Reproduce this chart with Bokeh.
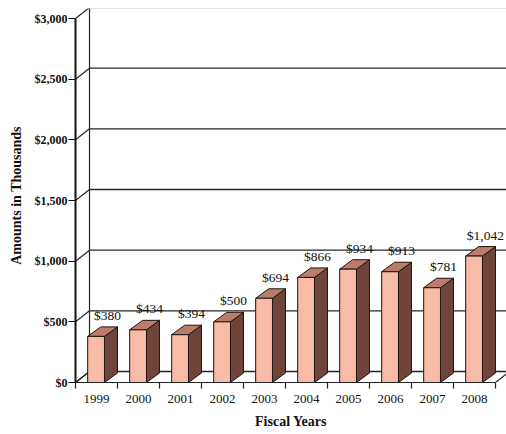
from bokeh.plotting import figure
from bokeh.models import Range1d, FixedTicker, NumeralTickFormatter, CustomJSTickFormatter, ColumnDataSource
from bokeh.embed import file_html
from bokeh.resources import INLINE

# ---- data ----
cats = ["1999", "2000", "2001", "2002", "2003", "2004", "2005", "2006", "2007", "2008"]
values = [380, 434, 394, 500, 694, 866, 934, 913, 781, 1042]
value_labels = ["$380", "$434", "$394", "$500", "$694", "$866", "$934", "$913", "$781", "$1,042"]
ytick_vals = [0, 500, 1000, 1500, 2000, 2500, 3000]

# ---- geometry (data units: 1 category = 1 unit in x, dollars in y) ----
n = len(cats)
PX_X = 42.0            # px per category
PX_Y = 364.0 / 3000.0  # px per dollar
wall_dx = 14 / PX_X
wall_dy = 11 / PX_Y
bar_dx = 13 / PX_X
bar_dy = 9.5 / PX_Y
f_left, f_right = 0.29, 0.69

FONT = "Liberation Serif"
FRAME_W = 431
FRAME_H = 374

p = figure(width=506, height=432, output_backend="svg", toolbar_location=None,
           x_range=Range1d(0, FRAME_W / PX_X), y_range=Range1d(0, FRAME_H / PX_Y),
           min_border_left=75, min_border_right=0, min_border_top=8, min_border_bottom=50)
p.xgrid.visible = False
p.ygrid.visible = False
p.outline_line_color = None
p.background_fill_color = "white"
p.border_fill_color = "white"

LINE = "#262626"

# floor
p.patch([0, n, n + wall_dx, wall_dx], [0, 0, wall_dy, wall_dy],
        fill_color="white", line_color=LINE, line_width=1.2)
# back wall gridlines
xmax = n + wall_dx + 1
p.segment(x0=[wall_dx] * len(ytick_vals), y0=[v + wall_dy for v in ytick_vals],
          x1=[xmax] * len(ytick_vals), y1=[v + wall_dy for v in ytick_vals],
          line_color=LINE, line_width=1.4)
# side-wall diagonals
p.segment(x0=[0] * len(ytick_vals), y0=ytick_vals,
          x1=[wall_dx] * len(ytick_vals), y1=[v + wall_dy for v in ytick_vals],
          line_color=LINE, line_width=1.2)
# back wall left edge
p.segment(x0=[wall_dx], y0=[wall_dy], x1=[wall_dx], y1=[ytick_vals[-1] + wall_dy],
          line_color=LINE, line_width=1.2)

# bars
side_xs, side_ys, top_xs, top_ys = [], [], [], []
lefts, rights = [], []
for i, v in enumerate(values):
    l, r = i + f_left, i + f_right
    lefts.append(l)
    rights.append(r)
    side_xs.append([r, r + bar_dx, r + bar_dx, r])
    side_ys.append([0, bar_dy, v + bar_dy, v])
    top_xs.append([l, r, r + bar_dx, l + bar_dx])
    top_ys.append([v, v, v + bar_dy, v + bar_dy])

p.patches(side_xs, side_ys, fill_color="#6f443a", line_color="#1e1410", line_width=1)
p.patches(top_xs, top_ys, fill_color="#b97d6a", line_color="#1e1410", line_width=1)
p.quad(left=lefts, right=rights, bottom=[0] * n, top=values,
       fill_color="#f8bba6", line_color="#1e1410", line_width=1)

# value labels
src = ColumnDataSource(dict(x=[i + 0.5 + 0.26 for i in range(n)], y=values, t=value_labels))
p.text(x="x", y="y", text="t", source=src, text_align="center", text_baseline="middle",
       y_offset=-21, text_font_size="13.5px", text_color="#111111",
       text_font={"value": FONT})

# axes
ya = p.yaxis[0]
ya.ticker = FixedTicker(ticks=ytick_vals)
ya.formatter = NumeralTickFormatter(format="$0,0")
ya.bounds = (0, 3000)
ya.axis_line_width = 2
ya.axis_line_color = "#111111"
ya.major_tick_out = 7
ya.major_tick_in = 0
ya.major_tick_line_color = "#111111"
ya.minor_tick_line_color = None
ya.major_label_standoff = 1
ya.major_label_text_font = FONT
ya.major_label_text_font_style = "bold"
ya.major_label_text_font_size = "12px"
ya.major_label_text_color = "#111111"
ya.axis_label = "Amounts in Thousands"
ya.axis_label_text_font = FONT
ya.axis_label_text_font_style = "bold"
ya.axis_label_text_font_size = "14px"
ya.axis_label_text_color = "#111111"
ya.axis_label_standoff = 8

xa = p.xaxis[0]
xa.ticker = FixedTicker(ticks=[i + 0.5 for i in range(n)], minor_ticks=list(range(n + 1)))
xa.formatter = CustomJSTickFormatter(args=dict(cats=cats), code="return cats[Math.round(tick - 0.5)];")
xa.bounds = (0, n)
xa.axis_line_color = "#222222"
xa.axis_line_width = 1.2
xa.major_tick_out = 0
xa.major_tick_in = 0
xa.minor_tick_out = 6
xa.minor_tick_in = 0
xa.minor_tick_line_color = "#222222"
xa.minor_tick_line_width = 1.2
xa.major_label_standoff = 6
xa.major_label_text_font = FONT
xa.major_label_text_font_size = "13px"
xa.major_label_text_color = "#111111"
xa.axis_label = "Fiscal Years"
xa.axis_label_text_font = FONT
xa.axis_label_text_font_style = "bold"
xa.axis_label_text_font_size = "14px"
xa.axis_label_text_color = "#111111"
xa.axis_label_standoff = 8

open("out.html", "w").write(file_html(p, INLINE))
